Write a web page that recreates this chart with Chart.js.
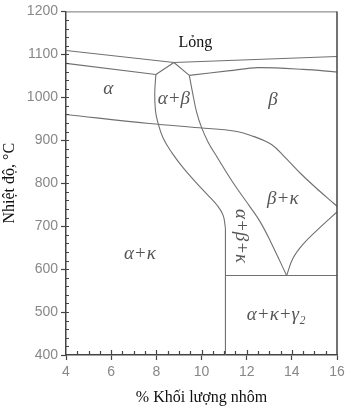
<!DOCTYPE html>
<html>
<head>
<meta charset="utf-8">
<script src="https://cdn.jsdelivr.net/npm/chart.js@4"></script>
<style>
  body { margin: 0; background: #fff; }
  canvas { display: block; }
</style>
</head>
<body>
<canvas id="phaseChart" width="350" height="409"></canvas>
<script>
// phase boundaries: % Al (x) and temperature in °C (y)
const liquidusAl = [4, 8.78, 16];
const liquidusT = [1109, 1081, 1095];

const alphaSolidusAl = [4, 7.98];
const alphaSolidusT = [1079, 1053];

const peakAl = [7.98, 8.78, 9.46];
const peakT = [1053, 1081, 1051];

const betaSolidusAl = [9.46, 11.26, 12.5, 14.5, 16];
const betaSolidusT = [1051, 1062, 1069, 1065, 1059];

const solvusAl = [4, 7.7, 9.9, 11.5, 12.3, 13.1, 13.7, 14.4, 15.2, 15.9, 16];
const solvusT = [960, 939, 929, 921, 909, 890, 860, 822, 783, 751, 746];

const alphaEdgeAl = [7.98, 7.93, 7.96, 8.05, 8.3, 8.7, 9.2, 9.7, 10.25, 10.7, 10.96, 11.06];
const alphaEdgeT = [1053, 1010, 970, 945, 905, 870, 835, 805, 774, 748, 725, 695];

const verticalAl = [11.06, 11.06];
const verticalT = [695, 400];

const betaEdgeAl = [9.46, 9.6, 9.78, 10.0, 10.3, 10.7, 11.4, 12.15, 12.6, 13.05, 13.77];
const betaEdgeT = [1051, 1012, 966, 930, 895, 860, 801, 745, 710, 665, 585];

const kappaEdgeAl = [16, 15.25, 14.5, 14.05, 13.77];
const kappaEdgeT = [733, 697, 658, 625, 585];

const eutectoidAl = [11.06, 16];
const eutectoidT = [585, 585];

const xTicks = [4, 6, 8, 10, 12, 14, 16];
const yTicks = [400, 500, 600, 700, 800, 900, 1000, 1100, 1200];

// region labels
const regionText = ["Lỏng", "α", "α+β", "β", "β+κ", "α+κ", "α+β+κ", "α+κ+γ₂"];
const regionAl = [9.73, 5.87, 8.78, 13.17, 13.6, 7.27, 11.74, 13.31];
const regionT = [1127, 1020, 997, 993, 763, 636, 677, 492];

function pts(xs, ys) {
  return xs.map((x, i) => ({ x: x, y: ys[i] }));
}

function line(xs, ys, tension) {
  return {
    data: pts(xs, ys),
    showLine: true,
    pointRadius: 0,
    borderColor: "#707070",
    borderWidth: 1.1,
    tension: tension,
    fill: false,
  };
}

const frameAndTicks = {
  id: "frameAndTicks",
  afterDraw(chart) {
    const { ctx, chartArea: a, scales } = chart;
    ctx.save();
    ctx.strokeStyle = "#777";
    ctx.lineWidth = 1;
    ctx.beginPath();
    ctx.moveTo(a.left, a.top + 0.5);
    ctx.lineTo(a.right, a.top + 0.5);
    ctx.stroke();
    ctx.strokeStyle = "#444";
    ctx.lineWidth = 1.5;
    ctx.beginPath();
    ctx.moveTo(a.right, a.top);
    ctx.lineTo(a.right, a.bottom);
    ctx.stroke();

    // inward ticks
    ctx.strokeStyle = "#444";
    ctx.lineWidth = 1.2;
    ctx.beginPath();
    for (let v = 420; v < 1200; v += 20) {
      const y = Math.round(scales.y.getPixelForValue(v)) + 0.5;
      ctx.moveTo(a.left, y);
      ctx.lineTo(a.left + 3, y);
    }
    for (let v = 4.5; v < 16; v += 0.5) {
      const x = Math.round(scales.x.getPixelForValue(v)) + 0.5;
      const len = v % 2 === 0 ? 5 : 4;
      ctx.moveTo(x, a.bottom);
      ctx.lineTo(x, a.bottom - len);
    }
    ctx.stroke();

    // region labels
    ctx.textAlign = "center";
    ctx.textBaseline = "middle";
    regionText.forEach((t, i) => {
      const x = scales.x.getPixelForValue(regionAl[i]);
      const y = scales.y.getPixelForValue(regionT[i]);
      ctx.save();
      ctx.translate(x, y);
      if (t === "Lỏng") {
        ctx.fillStyle = "#111";
        ctx.font = "16px 'Liberation Serif'";
      } else {
        ctx.fillStyle = "#555";
        ctx.font = "italic 19px 'Liberation Serif'";
      }
      if (t === "α+β+κ") ctx.rotate(Math.PI / 2);
      ctx.fillText(t, 0, 0);
      ctx.restore();
    });
    ctx.restore();
  },
};

new Chart(document.getElementById("phaseChart").getContext("2d"), {
  type: "scatter",
  data: {
    datasets: [
      line(liquidusAl, liquidusT, 0),
      line(alphaSolidusAl, alphaSolidusT, 0),
      line(peakAl, peakT, 0),
      line(betaSolidusAl, betaSolidusT, 0.3),
      line(solvusAl, solvusT, 0.4),
      line(alphaEdgeAl, alphaEdgeT, 0.4),
      line(verticalAl, verticalT, 0),
      line(betaEdgeAl, betaEdgeT, 0.4),
      line(kappaEdgeAl, kappaEdgeT, 0.4),
      line(eutectoidAl, eutectoidT, 0),
    ],
  },
  options: {
    responsive: false,
    animation: false,
    layout: { padding: { top: 9, right: 13, left: 0, bottom: 0 } },
    plugins: {
      legend: { display: false },
      tooltip: { enabled: false },
    },
    scales: {
      x: {
        type: "linear",
        min: 4,
        max: 16,
        afterBuildTicks: (s) => { s.ticks = xTicks.map((v) => ({ value: v })); },
        afterFit: (s) => { s.height = 54; },
        ticks: {
          color: "#888",
          padding: 4,
          callback: (v) => String(v),
          font: { family: "'Liberation Sans', Arial, sans-serif", size: 14 },
        },
        grid: { drawOnChartArea: false, tickLength: 5, color: "#444", tickWidth: 1.2 },
        border: { color: "#444", width: 1.5 },
        title: {
          display: true,
          text: "% Khối lượng nhôm",
          color: "#111",
          padding: { top: 4, bottom: 2 },
          font: { family: "'Liberation Serif', serif", size: 16 },
        },
      },
      y: {
        min: 400,
        max: 1200,
        afterBuildTicks: (s) => { s.ticks = yTicks.map((v) => ({ value: v })); },
        afterFit: (s) => { s.width = 66; },
        ticks: {
          color: "#888",
          padding: 3,
          callback: (v) => String(v),
          font: { family: "'Liberation Sans', Arial, sans-serif", size: 14 },
        },
        grid: { drawOnChartArea: false, tickLength: 5, color: "#444", tickWidth: 1.2 },
        border: { color: "#444", width: 1.5 },
        title: {
          display: true,
          text: "Nhiệt độ, °C",
          color: "#111",
          padding: { top: 0, bottom: 4 },
          font: { family: "'Liberation Serif', serif", size: 16 },
        },
      },
    },
  },
  plugins: [frameAndTicks],
});
</script>
</body>
</html>
